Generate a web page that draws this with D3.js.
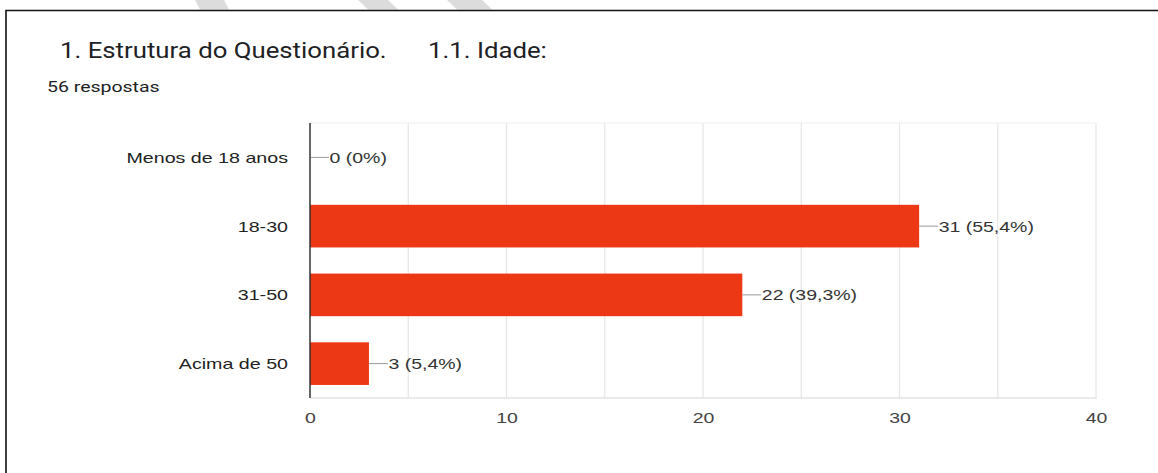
<!DOCTYPE html>
<html>
<head>
<meta charset="utf-8">
<script src="https://cdn.jsdelivr.net/npm/d3@7"></script>
<style>
  html, body { margin: 0; padding: 0; background: #fff; }
  svg { display: block; }
</style>
</head>
<body>
<script>
// ---- data ----
const categories = ["Menos de 18 anos", "18-30", "31-50", "Acima de 50"];
const counts = [0, 31, 22, 3];
const percentLabels = ["0%", "55,4%", "39,3%", "5,4%"];
const tickValues = [0, 10, 20, 30, 40];
const gridValues = [0, 5, 10, 15, 20, 25, 30, 35, 40];
const titleParts = ["1. Estrutura do Questionário.", "1.1. Idade:"];
const subtitle = "56 respostas";

// ---- layout ----
const W = 1158, H = 473;
const plot = { left: 310, right: 1096, top: 123, bottom: 398 };
const SX = 1.3; // horizontal stretch of the source image text

const svg = d3.select("body").append("svg").attr("width", W).attr("height", H);

// watermark stripes at the top
const stripes = [
  [[195,0],[224,0],[229,9.5],[200,9.5]],
  [[358,0],[388,0],[398,9.5],[368,9.5]],
  [[447,0],[482,0],[492,9.5],[457,9.5]]
];
svg.selectAll("polygon.stripe").data(stripes).join("polygon")
  .attr("class", "stripe")
  .attr("points", d => d.map(p => p.join(",")).join(" "))
  .attr("fill", "#dcdcdc");

// frame border (top & left)
svg.append("path")
  .attr("d", `M6,${H} L6,10.5 L${W},10.5`)
  .attr("fill", "none").attr("stroke", "#111").attr("stroke-width", 1.6);

function stretchedText(g, x, y, txt, opts) {
  return g.append("text")
    .attr("transform", `translate(${x},${y}) scale(${opts.sx || SX},1)`)
    .attr("text-anchor", opts.anchor || "start")
    .attr("font-family", opts.family || "'Liberation Sans', Arial, sans-serif")
    .attr("font-size", opts.size || 15)
    .attr("fill", opts.fill || "#333")
    .text(txt);
}

// title
stretchedText(svg, 60, 58, titleParts[0], { family: "Roboto, sans-serif", size: 23, sx: 1.12, fill: "#202124" });
stretchedText(svg, 428, 58, titleParts[1], { family: "Roboto, sans-serif", size: 23, sx: 1.12, fill: "#202124" });
stretchedText(svg, 47, 92, subtitle, { family: "Roboto, sans-serif", size: 15, sx: 1.3, fill: "#202124" });

// scales
const x = d3.scaleLinear().domain([0, 40]).range([plot.left, plot.right]);
const y = d3.scaleBand().domain(categories).range([plot.top, plot.bottom]).paddingInner(0.38).paddingOuter(0.19);

// grid
svg.append("g").selectAll("line").data(gridValues.filter(v => v > 0)).join("line")
  .attr("x1", d => x(d)).attr("x2", d => x(d))
  .attr("y1", plot.top).attr("y2", plot.bottom)
  .attr("stroke", "#e6e6e6").attr("stroke-width", 1.2);
svg.append("line")
  .attr("x1", plot.left).attr("x2", plot.right)
  .attr("y1", plot.top).attr("y2", plot.top)
  .attr("stroke", "#eeeeee").attr("stroke-width", 1);
svg.append("line")
  .attr("x1", plot.left).attr("x2", plot.right + 0.6)
  .attr("y1", plot.bottom).attr("y2", plot.bottom)
  .attr("stroke", "#e3e3e3").attr("stroke-width", 1.6);

// bars
svg.append("g").selectAll("rect").data(categories).join("rect")
  .attr("x", x(0))
  .attr("y", d => y(d))
  .attr("width", (d, i) => x(counts[i]) - x(0))
  .attr("height", y.bandwidth())
  .attr("fill", "#ec3814");

// zero baseline
svg.append("line")
  .attr("x1", x(0)).attr("x2", x(0))
  .attr("y1", plot.top).attr("y2", plot.bottom)
  .attr("stroke", "#333").attr("stroke-width", 1.5);

// leader lines and value labels
const lab = svg.append("g");
categories.forEach((c, i) => {
  const cy = y(c) + y.bandwidth() / 2;
  const x0 = x(counts[i]) + (counts[i] === 0 ? 1 : 0);
  lab.append("line")
    .attr("x1", x0).attr("x2", x(counts[i]) + 19)
    .attr("y1", cy).attr("y2", cy)
    .attr("stroke", "#999").attr("stroke-width", 1);
  stretchedText(lab, x(counts[i]) + 19.5, cy + 5.5, `${counts[i]} (${percentLabels[i]})`, { fill: "#333" });
});

// y axis labels (category names)
const yAxisG = svg.append("g").attr("transform", `translate(${plot.left},0)`)
  .call(d3.axisLeft(y).tickSize(0).tickPadding(0));
yAxisG.select(".domain").remove();
yAxisG.selectAll(".tick text").remove();
yAxisG.selectAll(".tick").each(function(d) {
  stretchedText(d3.select(this), -22, 5.5, d, { anchor: "end", fill: "#222", sx: 1.31 });
});

// x axis tick labels
const xAxisG = svg.append("g").attr("transform", `translate(0,${plot.bottom})`)
  .call(d3.axisBottom(x).tickValues(tickValues).tickSize(0));
xAxisG.select(".domain").remove();
xAxisG.selectAll(".tick text").remove();
xAxisG.selectAll(".tick").each(function(d) {
  stretchedText(d3.select(this), 0, 24.5, d3.format("d")(d), { anchor: "middle", fill: "#444" });
});
</script>
</body>
</html>
